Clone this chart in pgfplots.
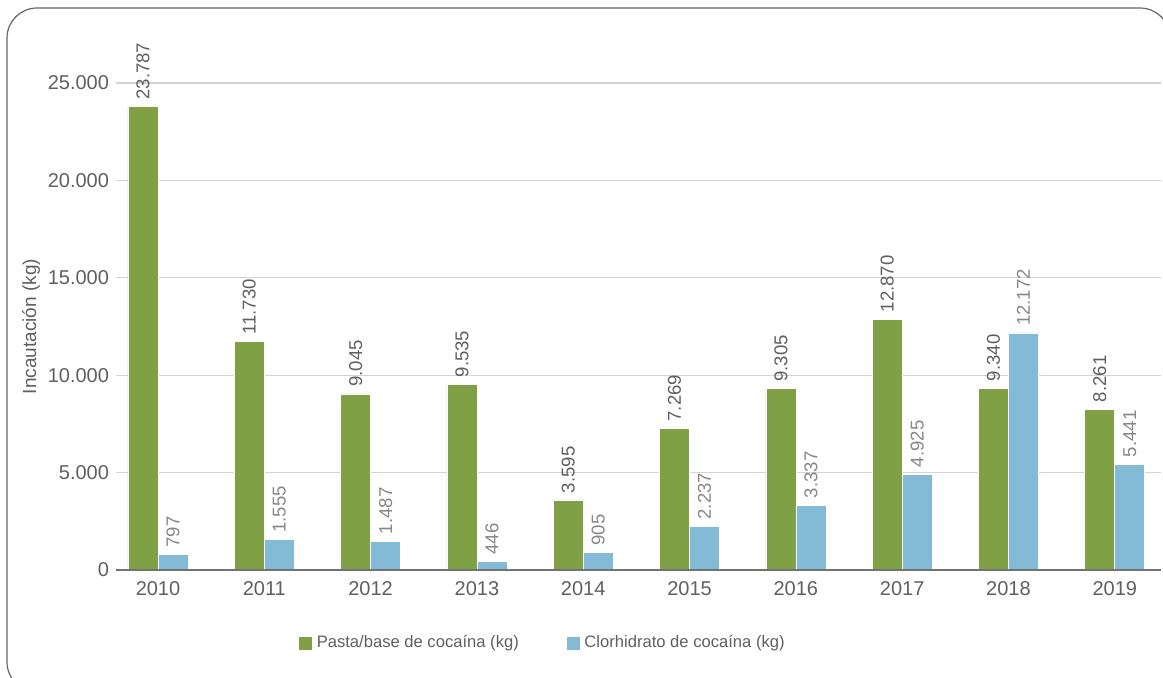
\documentclass[border=0pt]{standalone}
\usepackage{fontspec}
\setmainfont{Liberation Sans}
\usepackage{pgfplots}
\pgfplotsset{compat=1.18}
\definecolor{cgreen}{RGB}{127,160,69}
\definecolor{cblue}{RGB}{131,186,214}
\definecolor{tgray}{RGB}{95,95,95}
\definecolor{lgray}{RGB}{135,135,135}
\definecolor{ggrid}{RGB}{212,212,212}
\begin{document}
\begin{tikzpicture}[x=0.5pt,y=0.5pt]
\useasboundingbox (0,0) rectangle (1163,677);
\draw[draw=black!60, line width=0.6pt, rounded corners=15pt] (7,-15) rectangle (1170,669);
\begin{axis}[
  at={(79pt,53.5pt)}, anchor=origin,
  scale only axis, width=522.5pt, height=243.5pt,
  xmin=-0.395, xmax=9.435, ymin=0, ymax=25000,
  ybar=0pt, bar width=15pt,
  axis line style={draw=none},
  major tick length=0pt,
  ymajorgrids, grid style={color=ggrid, line width=0.6pt},
  ytick={0,5000,10000,15000,20000,25000},
  scaled y ticks=false,
  /pgf/number format/.cd, 1000 sep={.}, fixed, precision=0, assume math mode=true,
  /pgfplots/.cd,
  yticklabel style={font=\fontsize{10}{12}\selectfont, text=tgray},
  xtick={0,1,2,3,4,5,6,7,8,9},
  xticklabels={2010,2011,2012,2013,2014,2015,2016,2017,2018,2019},
  xticklabel style={font=\fontsize{10}{12}\selectfont, text=tgray, yshift=-2pt},
  ylabel={Incautación (kg)},
  ylabel style={at={(axis description cs:-0.0813,0.5)}, anchor=center, font=\fontsize{9.5}{11}\selectfont, text=tgray},
  legend columns=2,
  legend style={at={(axis description cs:0.409,-0.15)}, anchor=center, draw=none, fill=none,
    font=\fontsize{8.3}{10}\selectfont, text=tgray,
    /tikz/every even column/.append style={column sep=21.5pt}},
  legend image code/.code={\fill[#1] (-1.5pt,-3.4pt) rectangle (5.5pt,3.4pt);},
  nodes near coords,
]
\addplot[fill=cgreen, draw=white, line width=0.3pt,
  every node near coord/.append style={rotate=90, anchor=west, font=\fontsize{9.3}{11}\selectfont, text=tgray}]
  coordinates {(0,23787) (1,11730) (2,9045) (3,9535) (4,3595) (5,7269) (6,9305) (7,12870) (8,9340) (9,8261)};
\addlegendentry{Pasta/base de cocaína (kg)}
\addplot[fill=cblue, draw=white, line width=0.3pt,
  every node near coord/.append style={rotate=90, anchor=west, font=\fontsize{9.3}{11}\selectfont, text=lgray}]
  coordinates {(0,797) (1,1555) (2,1487) (3,446) (4,905) (5,2237) (6,3337) (7,4925) (8,12172) (9,5441)};
\addlegendentry{Clorhidrato de cocaína (kg)}
\draw[draw=black!55, line width=0.7pt] (rel axis cs:0,0) -- (rel axis cs:1,0);
\end{axis}
\end{tikzpicture}
\end{document}
